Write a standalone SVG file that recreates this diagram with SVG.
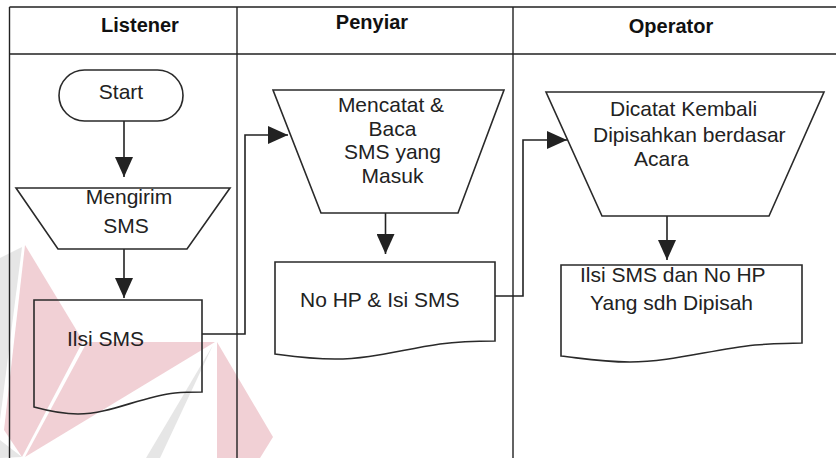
<svg xmlns="http://www.w3.org/2000/svg" width="836" height="458" viewBox="0 0 836 458">
<defs>
<style>
.frame{stroke:#222;stroke-width:1.4;fill:none}
.shape{stroke:#2a2a2a;stroke-width:1.6;fill:none}
.conn{stroke:#222;stroke-width:1.6;fill:none}
.t{font-family:"Liberation Sans",Arial,sans-serif;font-size:21px;fill:#222}
.h{font-family:"Liberation Sans",Arial,sans-serif;font-size:20px;font-weight:bold;fill:#111}
.wp{fill:#f1d0d5}
.wg{fill:#e6e6e6}
</style>
<marker id="arr" viewBox="0 0 20 18" refX="20" refY="9" markerWidth="20" markerHeight="18" markerUnits="userSpaceOnUse" orient="auto">
<path d="M0,0 L20,9 L0,18 Z" fill="#222"/>
</marker>
</defs>
<rect width="836" height="458" fill="#fff"/>
<g id="watermark">
<polygon class="wg" points="22,247 0,258 0,420"/>
<polygon class="wp" points="25,245 83,341 22,457 4,430"/>
<polygon class="wp" points="87,342 215,342 25,457"/>
<polygon class="wp" points="217,342 273,437 260,458 217,458"/>
<polygon class="wg" points="213,345 146,458 160,458"/>
<polygon class="wg" points="0,440 22,457 0,458"/>
</g>
<g id="lanes">
<path class="frame" d="M9.5,7 H836 M9.5,54 H836 M9.5,7 V458 M237,7 V458 M513,7 V458"/>
<text class="h" x="140" y="32" text-anchor="middle">Listener</text>
<text class="h" x="372" y="29" text-anchor="middle">Penyiar</text>
<text class="h" x="671" y="33" text-anchor="middle">Operator</text>
</g>
<g id="connectors">
<path class="conn" d="M124,121 V177" marker-end="url(#arr)"/>
<path class="conn" d="M124,249 V298" marker-end="url(#arr)"/>
<path class="conn" d="M202,334 H245 V135 H288" marker-end="url(#arr)"/>
<path class="conn" d="M385.5,213 V254" marker-end="url(#arr)"/>
<path class="conn" d="M495,296 H523 V140 H567" marker-end="url(#arr)"/>
<path class="conn" d="M667,216 V260" marker-end="url(#arr)"/>
</g>
<g id="start">
<rect class="shape" x="59" y="70" width="124" height="51" rx="25.5" ry="25.5"/>
<text class="t" x="121" y="99" text-anchor="middle">Start</text>
</g>
<g id="mengirim">
<polygon class="shape" points="16,188 230,188 187,249 58,249"/>
<text class="t" x="129" y="204" text-anchor="middle">Mengirim</text>
<text class="t" x="126" y="233" text-anchor="middle">SMS</text>
</g>
<g id="ilsi-sms">
<path class="shape" d="M34,300 H202 V392 C192,392 185,392 175,393 C140,397 110,414 78,414 C60,414 45,410 34,407 Z"/>
<text class="t" x="67" y="346">Ilsi SMS</text>
</g>
<g id="mencatat">
<polygon class="shape" points="273,90 504,90 458,213 321,213"/>
<text class="t" x="391" y="112" text-anchor="middle">Mencatat &amp;</text>
<text class="t" x="392.5" y="136" text-anchor="middle">Baca</text>
<text class="t" x="392.5" y="159" text-anchor="middle">SMS yang</text>
<text class="t" x="392.5" y="183" text-anchor="middle">Masuk</text>
</g>
<g id="nohp">
<path class="shape" d="M275,262 H495 V341 C470,341 455,342 440,344 C400,350 370,359 335,359 C310,359 290,356 275,354 Z"/>
<text class="t" x="300" y="307">No HP &amp; Isi SMS</text>
</g>
<g id="dicatat">
<polygon class="shape" points="546,92 824,92 769,216 602,216"/>
<text class="t" x="610" y="116">Dicatat Kembali</text>
<text class="t" x="593" y="142">Dipisahkan berdasar</text>
<text class="t" x="634" y="166">Acara</text>
</g>
<g id="dipisah">
<path class="shape" d="M561,265 H802 V343 C785,343 770,344 755,345 C710,350 670,362 630,362 C600,362 580,358 561,356 Z"/>
<text class="t" x="580" y="282">Ilsi SMS dan No HP</text>
<text class="t" x="590" y="310">Yang sdh Dipisah</text>
</g>
</svg>
